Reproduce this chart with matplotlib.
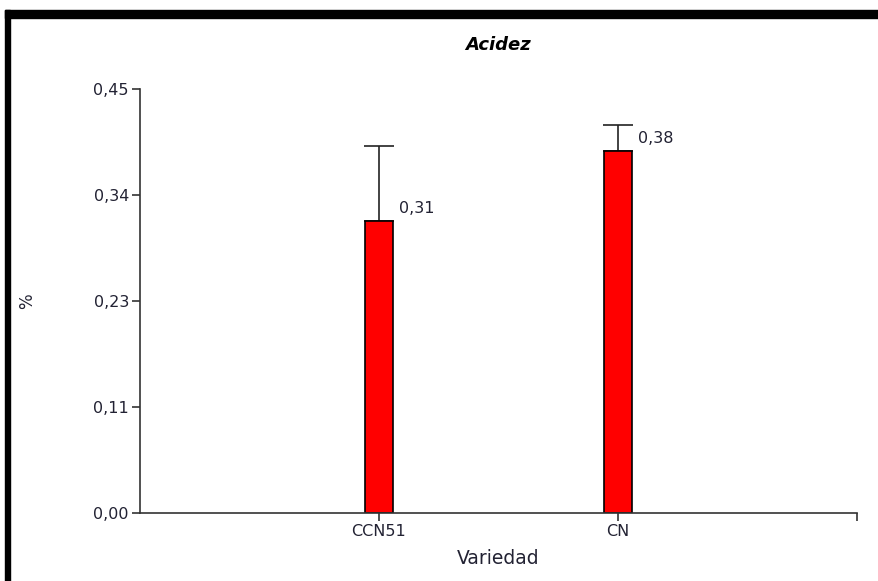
import matplotlib.pyplot as plt
from matplotlib.patches import Rectangle

plt.rcParams['font.family'] = ['DejaVu Sans']

categories = ['CCN51', 'CN']
values = [0.31, 0.384]
errors = [0.08, 0.028]
value_labels = ['0,31', '0,38']
yticks = [0.0, 0.1125, 0.225, 0.3375, 0.45]
ytick_labels = ['0,00', '0,11', '0,23', '0,34', '0,45']

fig = plt.figure(figsize=(8.79, 5.81), dpi=100)

# black frame on the top and left edges
fig.patches.append(Rectangle((5 / 879, 1 - 18 / 581), 1, 8 / 581, transform=fig.transFigure,
                             color='black', zorder=0))
fig.patches.append(Rectangle((5 / 879, 0), 5 / 879, 1 - 10 / 581, transform=fig.transFigure,
                             color='black', zorder=0))

ax = fig.add_axes([140 / 879, 1 - 513 / 581, 717 / 879, (513 - 89) / 581])
x = [1, 2]
ax.bar(x, values, width=0.117, color='#ff0000', edgecolor='black', linewidth=1.2, zorder=2)
ax.errorbar(x, values, yerr=[[0, 0], errors], fmt='none', ecolor='#222222',
            elinewidth=1.2, capsize=11, capthick=1.2, zorder=1)
for xi, v, lab in zip(x, values, value_labels):
    ax.text(xi + 0.085, v + 0.013, lab, fontsize=11.5, color='#222233', va='center', ha='left')

ax.set_xlim(0, 3)
ax.set_ylim(0, 0.45)
ax.set_xticks([1, 2, 3])
ax.set_xticklabels(categories + [''], fontsize=11.5, color='#222233')
ax.set_yticks(yticks)
ax.set_yticklabels(ytick_labels, fontsize=11.5, color='#222233')
ax.tick_params(axis='both', length=6, width=1.2, color='#333333', pad=2)
for s in ['top', 'right']:
    ax.spines[s].set_visible(False)
for s in ['left', 'bottom']:
    ax.spines[s].set_linewidth(1.2)
    ax.spines[s].set_color('#333333')

ax.set_xlabel('Variedad', fontsize=13.5, color='#222233')
ax.xaxis.set_label_coords(0.5, -0.085)
ax.set_ylabel('%', fontsize=12, color='#222233')
ax.yaxis.set_label_coords(-0.145, 0.5)
ax.set_title('Acidez', fontsize=13, fontweight='bold', fontstyle='italic', pad=28)

fig.savefig('out.png', dpi=100)
